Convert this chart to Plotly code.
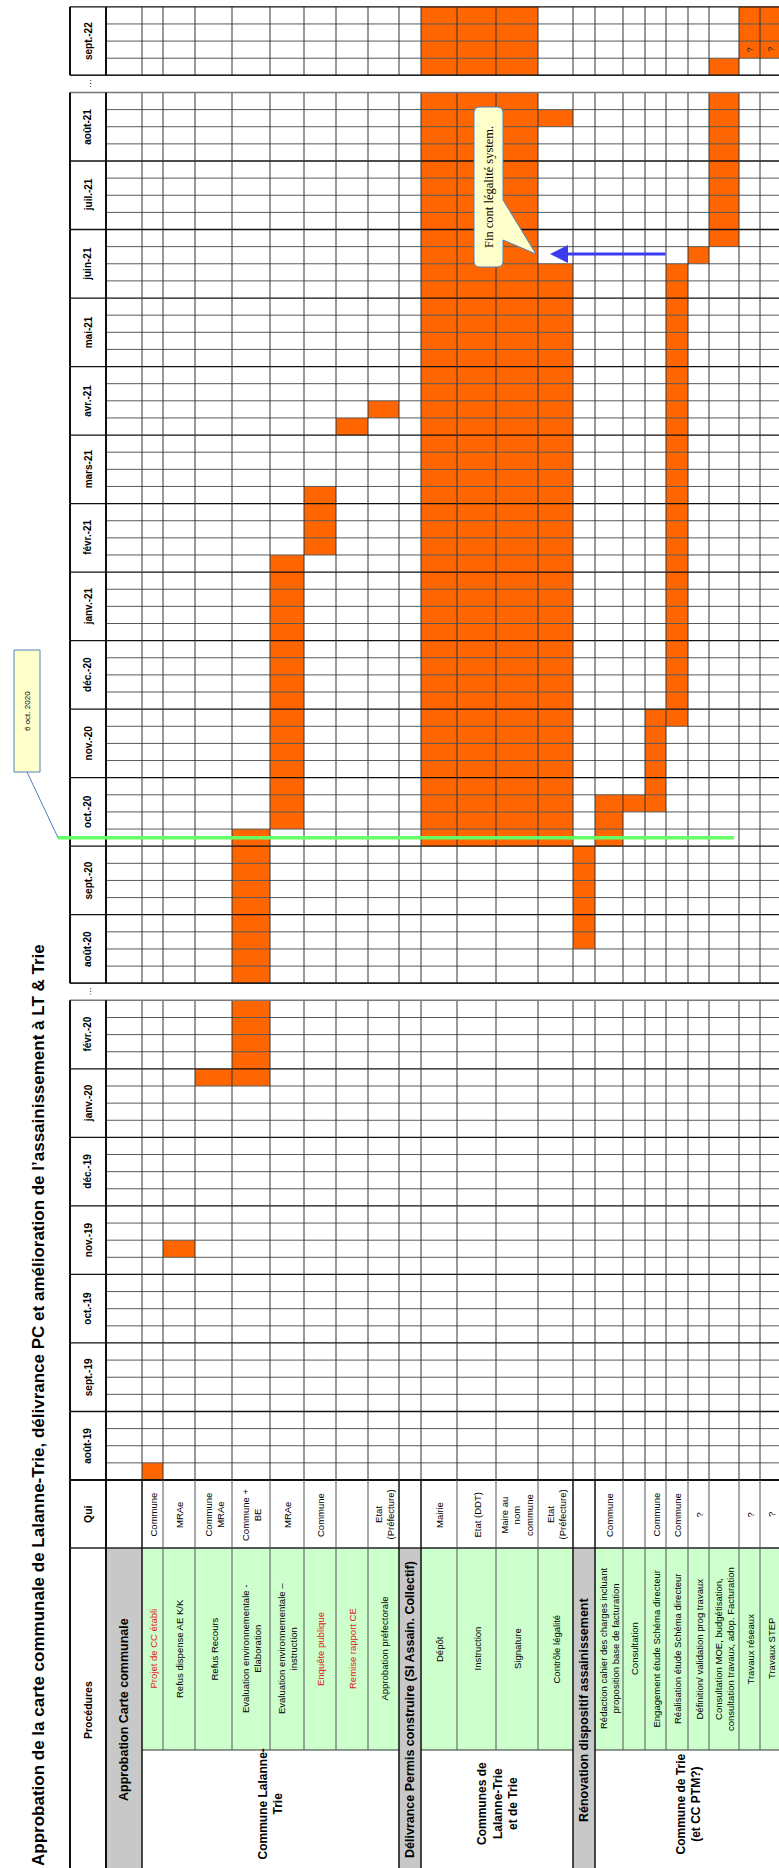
"""
Planning pivoté (tableau Excel tourné de 90°) :
carte communale de Lalanne-Trie, permis de construire et assainissement.

Axe x : colonnes de tâches (en pixels), axe y : semaines, de bas en haut.
"""
import plotly.graph_objects as go

# ---------------------------------------------------------------------------
# Données
# ---------------------------------------------------------------------------
TITLE = ("Approbation de la carte communale de Lalanne-Trie, délivrance PC et "
         "amélioration de l’assainissement à LT & Trie")

GAP = "…"
MONTHS = ["août-19", "sept.-19", "oct.-19", "nov.-19", "déc.-19", "janv.-20",
          "févr.-20", GAP, "août-20", "sept.-20", "oct.-20", "nov.-20", "déc.-20",
          "janv.-21", "févr.-21", "mars-21", "avr.-21", "mai-21", "juin-21",
          "juil.-21", "août-21", GAP, "sept.-22"]

SECTIONS = ["Approbation Carte communale",
            "Délivrance Permis construire (SI Assain. Collectif)",
            "Rénovation dispositif assainissement"]
GROUPS = ["Commune Lalanne-<br>Trie",
          "Communes de<br>Lalanne-Trie<br>et de Trie",
          "Commune de Trie<br>(et CC PTM?)"]

TASKS_CC = ["Projet de CC établi", "Refus dispense AE K/K", "Refus Recours",
            "Evaluation environnementale -<br>Elaboration",
            "Evaluation environnementale –<br>instruction",
            "Enquête publique", "Remise rapport CE", "Approbation préfectorale"]
QUI_CC = ["Commune", "MRAe", "Commune<br>MRAe", "Commune +<br>BE", "MRAe",
          "Commune", "", "Etat<br>(Préfecture)"]

TASKS_PC = ["Dépôt", "Instruction", "Signature", "Contrôle légalité"]
QUI_PC = ["Mairie", "Etat (DDT)", "Maire au<br>nom<br>commune", "Etat<br>(Préfecture)"]

TASKS_AS = ["Rédaction cahier des charges incluant<br>proposition base de facturation",
            "Consultation", "Engagement étude Schéma directeur",
            "Réalisation étude Schéma directeur",
            "Définition/ validation prog travaux",
            "Consultation MOE, budgétisation,<br>consultation travaux, adop. Facturation",
            "Travaux réseaux", "Travaux STEP"]
QUI_AS = ["Commune", "", "Commune", "Commune", "?", "", "?", "?"]

RED_TASKS = ["Projet de CC établi", "Enquête publique", "Remise rapport CE"]

# cases orange : tâche, semaine de début (0 = 1re semaine d'août-19, chaque
# "…" compte pour une semaine), nombre de semaines
BAR_TASK = ["Projet de CC établi", "Refus dispense AE K/K", "Refus Recours",
            "Evaluation environnementale - Elaboration",
            "Evaluation environnementale – instruction", "Enquête publique",
            "Remise rapport CE", "Approbation préfectorale",
            "Dépôt", "Instruction", "Signature", "Contrôle légalité",
            "Contrôle légalité", "Rénovation dispositif assainissement",
            "Rédaction cahier des charges incluant proposition base de facturation",
            "Consultation", "Engagement étude Schéma directeur",
            "Réalisation étude Schéma directeur",
            "Définition/ validation prog travaux",
            "Consultation MOE, budgétisation, consultation travaux, adop. Facturation",
            "Consultation MOE, budgétisation, consultation travaux, adop. Facturation",
            "Travaux réseaux", "Travaux STEP"]
BAR_START = [0, 13, 23, 23, 38, 54, 61, 62, 37, 37, 37, 37, 79, 31, 37, 39, 39,
             44, 71, 72, 82, 83, 83]
BAR_WEEKS = [1, 1, 1, 15, 16, 4, 1, 1, 49, 49, 49, 34, 1, 6, 3, 1, 6, 27, 1, 9,
             1, 3, 3]

QMARK_TASKS = ["Travaux réseaux", "Travaux STEP"]
QMARK_WEEK = 83

MARK_WEEK = 37.5          # 6 oct. 2020 (trait vert)
MARK_LABEL = "6 oct. 2020"
END_LABEL = "Fin cont légalité system."

# ---------------------------------------------------------------------------
# Mise en page (pixels)
# ---------------------------------------------------------------------------
W, H = 779, 1868
Y_GRID = 1480            # bas de la grille des semaines
WK = 17.13               # hauteur d'une semaine
X_TABLE = 70             # bord gauche du tableau
X_EDGES = [106, 142, 163, 195, 232, 270, 304, 336, 368, 399, 421, 457, 496,
           538, 573, 595, 623, 645, 666, 688, 709, 739, 760, 782]
Y_QUI, Y_PROC, Y_GROUP = 1548, 1750, H + 6

ORANGE = "#ff6600"
GREEN_BG = "#ccffcc"
GREY_BG = "#c8c8c8"
FONT = "Liberation Sans, Arial, sans-serif"


def yp(px):
    """ligne de pixel -> unité semaine de l'axe y"""
    return (Y_GRID - px) / WK


def clean(s):
    return s.replace("<br>", " ")


COLS = [SECTIONS[0]] + TASKS_CC + [SECTIONS[1]] + TASKS_PC + [SECTIONS[2]] + TASKS_AS
QUI = [""] + QUI_CC + [""] + QUI_PC + [""] + QUI_AS
SEC_IDX = [0, 1 + len(TASKS_CC), 2 + len(TASKS_CC) + len(TASKS_PC)]
GROUP_SPANS = [(SEC_IDX[0] + 1, SEC_IDX[1] - 1), (SEC_IDX[1] + 1, SEC_IDX[2] - 1),
               (SEC_IDX[2] + 1, len(COLS) - 1)]
col_idx = {clean(c): i for i, c in enumerate(COLS)}
x_left = X_EDGES[:-1]
x_right = X_EDGES[1:]
x_mid = [(a + b) / 2 for a, b in zip(x_left, x_right)]
x_wid = [b - a for a, b in zip(x_left, x_right)]

slots = []
w = 0
for m in MONTHS:
    n = 1 if m == GAP else 4
    slots.append((m, w, n))
    w += n
N_WEEKS = w

fig = go.Figure()

# --- cases orange -----------------------------------------------------------
bi = [col_idx[t] for t in BAR_TASK]
fig.add_trace(go.Bar(
    x=[x_mid[i] for i in bi], y=BAR_WEEKS, base=BAR_START,
    width=[x_wid[i] for i in bi],
    marker=dict(color=ORANGE, line=dict(width=0)),
    hoverinfo="skip", showlegend=False,
))

shapes = []


def line(x0, y0, x1, y1, color="#222", width=1):
    shapes.append(dict(type="line", xref="x", yref="y", x0=x0, y0=y0, x1=x1, y1=y1,
                       line=dict(color=color, width=width)))


def rect(x0, y0, x1, y1, fill):
    shapes.append(dict(type="rect", xref="x", yref="y", x0=x0, y0=y0, x1=x1, y1=y1,
                       fillcolor=fill, line=dict(width=0), layer="above"))


# --- fonds de l'en-tête -----------------------------------------------------
for si in SEC_IDX:
    rect(x_left[si], yp(Y_QUI), x_right[si], yp(Y_GROUP), GREY_BG)
for a, b in GROUP_SPANS:
    rect(x_left[a], yp(Y_QUI), x_right[b], yp(Y_PROC), GREEN_BG)

# --- grille des semaines ----------------------------------------------------
month_bounds = set()
for m, s, n in slots:
    month_bounds.update([s, s + n])
for k in range(N_WEEKS + 1):
    if k in month_bounds:
        line(X_TABLE, k, W + 5, k, "#111", 1.3)
    else:
        line(X_EDGES[0], k, W + 5, k, "#5a5a5a", 1)
for xe in X_EDGES[1:-1]:
    line(xe, 0, xe, N_WEEKS, "#333", 1)

# bandes "…" (semaines non représentées)
for m, s, n in slots:
    if m == GAP:
        rect(X_TABLE - 4, s, W + 5, s + n, "white")
        line(X_TABLE, s, W + 5, s, "#777", 1.5)
        line(X_TABLE, s + n, W + 5, s + n, "#222", 1.5)

# bords épais
line(X_EDGES[0], 0, X_EDGES[0], yp(Y_GROUP), "#111", 2)
for m, s, n in slots:
    if m != GAP:
        line(X_TABLE, s, X_TABLE, s + n, "#111", 2)
        line(X_EDGES[0], s, X_EDGES[0], s + n, "#111", 2)
line(X_TABLE, 0, X_TABLE, yp(Y_GROUP), "#111", 2)
line(X_TABLE, 0, W + 5, 0, "#111", 2)

# --- lignes de l'en-tête ----------------------------------------------------
line(X_TABLE, yp(Y_QUI), W + 5, yp(Y_QUI), "#222", 1.3)
for a, b in GROUP_SPANS:
    line(x_left[a], yp(Y_PROC), x_right[b], yp(Y_PROC), "#333", 1.2)
    for i in range(a + 1, b + 1):
        line(x_left[i], 0, x_left[i], yp(Y_PROC), "#555", 1)
for si in SEC_IDX:
    line(x_left[si], 0, x_left[si], yp(Y_GROUP), "#111", 1.5)
    line(x_right[si], 0, x_right[si], yp(Y_GROUP), "#111", 1.5)

# --- trait vert du 6 oct. 2020 ---------------------------------------------
line(58, MARK_WEEK, 734, MARK_WEEK, "#66ff66", 3.5)

# --- bulle "Fin cont légalité system." -------------------------------------
bx0, bx1, by0, by1, r = 474, 503, 107, 267, 6
pts = [("M", bx0 + r, by0), ("L", bx1 - r, by0), ("Q", bx1, by0, bx1, by0 + r),
       ("L", bx1, 200), ("L", 536, 254), ("L", bx1, 240), ("L", bx1, by1 - r),
       ("Q", bx1, by1, bx1 - r, by1), ("L", bx0 + r, by1),
       ("Q", bx0, by1, bx0, by1 - r), ("L", bx0, by0 + r),
       ("Q", bx0, by0, bx0 + r, by0)]
path = ""
for p in pts:
    coords = [f"{p[j]},{yp(p[j + 1]):.4f}" for j in range(1, len(p), 2)]
    path += p[0] + " ".join(coords) + " "
shapes.append(dict(type="path", xref="x", yref="y", path=path + "Z",
                   fillcolor="#ffffcc", line=dict(color="#4f81bd", width=1)))

# --- bulle "6 oct. 2020" -----------------------------------------------------
cx0, cx1, cy0, cy1 = 14, 40, 650, 772
shapes.append(dict(type="rect", xref="x", yref="y", x0=cx0, x1=cx1,
                   y0=yp(cy0), y1=yp(cy1), fillcolor="#ffffcc",
                   line=dict(color="#4f81bd", width=1)))
line(27, yp(cy1), 58, MARK_WEEK, "#4f81bd", 1)

# ---------------------------------------------------------------------------
# Textes
# ---------------------------------------------------------------------------
ann = []


def text(x, y, s, size=10, bold=False, color="#000", family=FONT, **kw):
    if bold:
        s = f"<b>{s}</b>"
    ann.append(dict(x=x, y=y, xref="x", yref="y", text=s, textangle=-90,
                    showarrow=False, font=dict(size=size, color=color, family=family),
                    **kw))


xm_month = (X_TABLE + X_EDGES[0]) / 2
for m, s, n in slots:
    text(xm_month, s + n / 2, m, size=10 if m != GAP else 9, bold=(m != GAP))

text(xm_month, yp(1514), "Qui", size=10.5, bold=True)
text(xm_month, yp(1710), "Procédures", size=10.5, bold=True)

for si, sec in zip(SEC_IDX, SECTIONS):
    text(x_mid[si], yp(1710), sec, size=12.5, bold=True)

for i, (c, q) in enumerate(zip(COLS, QUI)):
    if i in SEC_IDX:
        continue
    col = "#e3201b" if c in RED_TASKS else "#000"
    text(x_mid[i], yp(1649), c, size=9.5, color=col)
    if q:
        text(x_mid[i], yp(1515), q, size=9.5)

for (a, b), g in zip(GROUP_SPANS, GROUPS):
    text((x_left[a] + x_right[b]) / 2, yp(1804), g, size=12, bold=True)

for t in QMARK_TASKS:
    text(x_mid[col_idx[t]], QMARK_WEEK + 0.5, "?", size=9, color="#222")

text(38, yp(942), TITLE, size=17, bold=True, yanchor="top")
text(489, yp(187), END_LABEL, size=12.5, family="Liberation Serif, Times New Roman, serif")
text(27, yp(711), MARK_LABEL, size=8)

ann.append(dict(x=550, y=yp(254), ax=667, ay=yp(254), xref="x", yref="y",
                axref="x", ayref="y", text="", showarrow=True, arrowhead=2,
                arrowsize=1.2, arrowwidth=3, arrowcolor="#3b3bf0"))

fig.update_layout(
    width=W, height=H,
    margin=dict(l=0, r=0, t=0, b=0),
    paper_bgcolor="white", plot_bgcolor="white",
    barmode="overlay", showlegend=False, hovermode=False,
    xaxis=dict(range=[0, W], visible=False, fixedrange=True),
    yaxis=dict(range=[yp(H), yp(0)], visible=False, fixedrange=True),
    shapes=shapes, annotations=ann,
    font=dict(family=FONT),
)

fig.write_html("out.html", config={"displayModeBar": False},
               post_script="document.body.style.margin='0';")
